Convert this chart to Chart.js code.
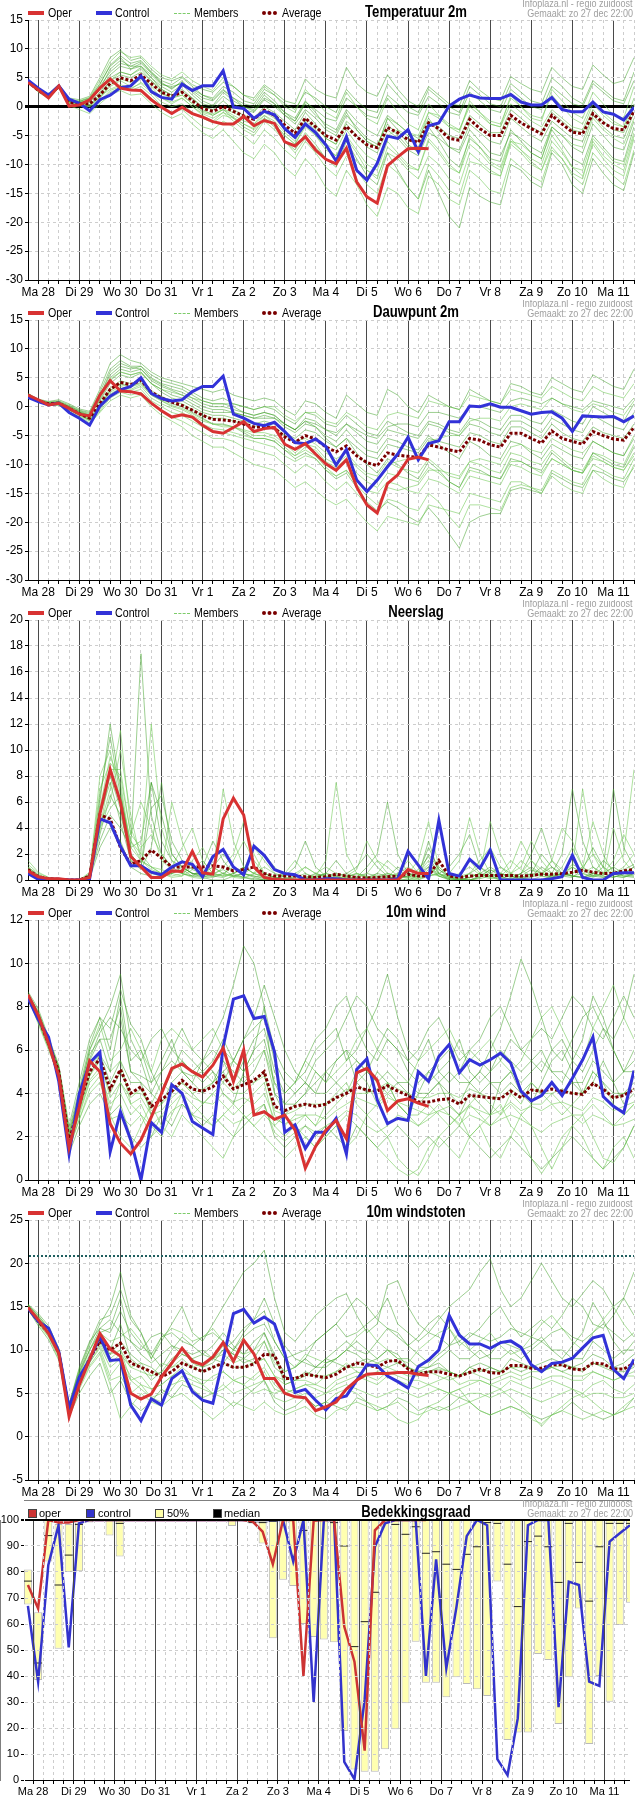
<!DOCTYPE html>
<html><head><meta charset="utf-8">
<script src="https://cdn.jsdelivr.net/npm/chart.js@4.4.1/dist/chart.umd.min.js"></script>
<style>
body{margin:0;background:#fff;width:635px;}
.panel{position:relative;width:635px;height:300px;overflow:hidden;background:#fff;}
.panel canvas{position:absolute;left:0;top:0;}
.h{position:absolute;white-space:nowrap;font-family:"Liberation Sans",Arial,sans-serif;}
.lg{font-size:13px;line-height:14px;top:6px;color:#000;transform:scaleX(0.82);transform-origin:left center;}
.sw{position:absolute;width:16px;height:0;}
.info{right:2px;font-size:11px;line-height:11px;color:#a0a0a0;text-align:right;transform:scaleX(0.82);transform-origin:right center;}
.ttl{font-weight:bold;font-size:16px;line-height:18px;top:3px;transform:translateX(-50%) scaleX(0.82);transform-origin:center center;}
.lg6{font-size:11px;line-height:12px;top:7px;}
.sq{position:absolute;width:7px;height:7px;top:9px;border:1px solid #444;}
</style></head><body>
<div id="root"></div>
<script>
// ---------- categories / ticks ----------
const dayLabels = ['Ma 28','Di 29','Wo 30','Do 31','Vr 1','Za 2','Zo 3','Ma 4','Di 5','Wo 6','Do 7','Vr 8','Za 9','Zo 10','Ma 11'];
const times = [-6,0,6,12,18,24,30,36,42,48,54,60,66,72,78,84,90,96,102,108,114,120,126,132,138,144,150,156,162,168,174,180,186,192,198,204,210,216,222,228,234,240,246,252,258,264,270,276,282,288,294,300,306,312,318,324,330,336,342,348];
const cloudTimes = [-3,3,9,15,21,27,33,39,45,51,57,63,69,75,81,87,93,99,105,111,117,123,129,135,141,147,153,159,165,171,177,183,189,195,201,207,213,219,225,231,237,243,249,255,261,267,273,279,285,291,297,303,309,315,321,327,333,339,345,351];

// ---------- Temperatuur 2m ----------
const tempOper = [4.2,2.9,1.5,3.6,0.1,0.3,1.2,3.2,4.8,3.2,2.9,2.8,1.2,-0.1,-1.2,-0.1,-1.2,-1.8,-2.6,-3.0,-3.0,-1.7,-3.3,-2.4,-2.9,-6.1,-6.8,-5.2,-7.5,-9.1,-9.9,-7.2,-13.0,-15.6,-16.7,-10.2,-8.7,-7.3,-7.2,-7.3];
const tempControl = [4.6,3.2,2.0,3.6,1.3,0.6,-0.7,1.2,2.0,3.3,3.6,5.3,2.6,1.6,1.3,3.9,2.8,3.6,3.6,6.2,-0.1,-0.3,-2.0,-0.8,-1.4,-3.8,-5.3,-3.0,-4.5,-6.6,-9.4,-5.2,-11.0,-12.7,-9.8,-5.1,-5.5,-4.0,-7.8,-3.3,-2.8,0.1,1.3,2.0,1.5,1.4,1.4,2.1,0.8,0.3,0.3,1.6,-0.5,-0.9,-0.9,0.8,-0.9,-1.3,-2.3,-0.1];
const tempAverage = [4.4,2.8,1.8,3.5,0.8,0.5,0.5,2.0,4.0,5.0,4.5,5.5,4.0,2.5,1.8,2.5,1.0,-0.3,-0.8,0.0,-0.8,-1.6,-2.2,-0.6,-1.5,-3.2,-4.6,-2.0,-3.5,-5.0,-5.8,-3.4,-5.2,-6.6,-7.1,-3.6,-4.5,-5.7,-6.2,-2.8,-3.8,-5.5,-5.8,-2.2,-3.8,-5.0,-5.0,-1.5,-2.8,-3.8,-4.7,-1.5,-3.0,-4.4,-4.7,-1.2,-2.8,-3.8,-4.0,-0.8];
const tempMembers = [
[4.6,3.0,2.2,3.9,1.5,1.2,1.8,5.0,8.5,9.8,8.0,8.5,6.5,5.0,4.5,5.2,3.8,3.0,2.5,4.2,3.5,2.0,1.5,3.8,2.5,1.0,0.5,4.8,3.0,2.0,1.5,6.8,4.0,2.5,1.8,5.5,3.0,1.0,0.0,3.5,2.0,0.5,0.2,4.5,2.8,1.5,1.0,5.2,4.0,3.0,2.5,6.8,5.0,3.5,3.0,7.2,5.5,4.0,4.5,8.5],
[4.2,2.5,1.4,3.2,0.2,-0.5,-1.2,0.5,2.0,2.8,2.0,2.2,0.5,-1.0,-2.0,-1.2,-3.0,-4.5,-5.5,-4.0,-6.0,-8.0,-9.0,-6.5,-8.0,-10.5,-12.0,-9.0,-11.0,-14.0,-15.5,-11.0,-13.5,-17.0,-19.0,-14.0,-15.0,-17.5,-18.5,-12.0,-13.5,-16.0,-17.0,-11.0,-12.5,-14.5,-15.0,-9.0,-10.5,-12.0,-13.0,-7.5,-9.0,-11.5,-12.5,-6.0,-8.5,-10.0,-11.0,-5.0],
[4.5,2.9,1.9,3.6,1.0,0.8,1.0,3.5,6.0,7.5,7.0,7.8,6.0,4.2,3.0,4.5,2.5,1.0,0.2,2.5,1.0,0.0,-0.8,1.5,0.5,-1.0,-2.5,0.5,-1.5,-3.0,-4.0,-0.5,-2.5,-4.0,-5.0,-1.5,-3.0,-4.5,-5.5,-2.0,-4.5,-7.0,-8.0,-4.0,-6.0,-8.0,-8.5,-4.5,-5.5,-7.0,-8.0,-3.5,-5.0,-7.0,-8.0,-3.0,-5.0,-7.0,-7.5,-2.5],
[4.3,2.7,1.6,3.4,0.6,0.3,0.0,1.5,3.5,4.5,3.5,4.8,3.5,1.5,0.5,1.5,0.0,-1.5,-2.5,-1.0,-2.5,-4.0,-5.0,-2.5,-4.0,-6.0,-8.0,-5.5,-7.0,-9.0,-10.0,-7.0,-9.5,-11.0,-12.0,-8.0,-9.0,-11.0,-12.5,-8.5,-10.0,-12.5,-13.5,-8.0,-9.5,-11.0,-12.0,-6.5,-8.0,-10.0,-11.0,-6.0,-8.0,-10.5,-11.0,-5.5,-7.5,-9.5,-10.0,-4.5],
[4.4,2.8,1.8,3.5,0.9,0.6,0.8,2.5,5.0,6.0,5.5,6.8,5.0,3.5,2.5,3.8,2.0,0.5,0.0,1.8,0.5,-0.5,-1.0,1.2,0.0,-1.5,-2.5,0.8,-0.5,-2.0,-2.5,1.5,0.0,-1.5,-2.0,2.0,0.5,-1.0,-1.5,1.8,0.5,-1.0,-1.5,2.5,1.0,-0.5,-1.0,3.0,1.5,0.0,-0.5,3.5,2.0,0.5,0.0,4.0,2.5,1.0,0.5,4.5],
[4.4,2.8,1.7,3.5,0.7,0.4,0.2,1.8,3.0,3.8,3.2,4.0,2.5,0.8,0.0,0.5,-1.0,-2.0,-2.8,-1.5,-2.0,-3.0,-3.8,-1.5,-2.5,-4.5,-6.0,-2.5,-4.0,-6.5,-7.5,-4.0,-6.5,-8.5,-9.5,-5.0,-4.0,-5.0,-6.0,-1.0,-1.5,-3.0,-4.0,0.5,-1.0,-2.5,-3.0,1.5,0.0,-1.5,-2.0,2.0,0.0,-2.0,-3.0,1.0,-1.0,-2.5,-3.5,0.5],
[4.5,2.9,2.0,3.6,1.2,0.9,1.5,4.0,7.0,8.5,6.5,7.0,5.5,3.8,3.5,4.0,2.8,1.5,1.0,2.8,1.5,0.5,0.0,2.5,1.0,-1.0,-2.0,1.0,-1.0,-3.5,-4.5,-1.0,-4.0,-6.0,-7.0,-2.0,-4.0,-6.5,-8.0,-3.5,-6.0,-9.0,-10.5,-5.5,-7.0,-9.0,-9.5,-4.0,-6.0,-8.0,-9.0,-4.0,-6.5,-9.0,-10.0,-5.0,-7.0,-9.0,-9.5,-3.5],
[4.3,2.6,1.5,3.3,0.5,0.2,-0.5,0.8,2.5,3.2,2.8,3.5,2.0,0.2,-1.0,-0.5,-2.0,-3.5,-4.0,-2.5,-3.5,-5.0,-6.5,-4.0,-5.5,-7.5,-9.0,-6.0,-8.0,-10.5,-12.0,-8.5,-11.0,-13.5,-15.0,-10.0,-11.5,-14.0,-16.0,-10.0,-12.0,-14.5,-15.5,-9.5,-10.0,-11.5,-12.0,-6.0,-6.5,-8.0,-9.0,-3.5,-5.0,-6.5,-7.0,-2.0,-4.0,-5.5,-6.5,-2.0],
[4.5,2.9,1.9,3.6,1.0,0.7,1.2,3.0,5.5,7.0,6.5,7.5,5.8,4.0,3.2,4.2,3.0,2.0,1.5,3.5,2.5,1.0,0.5,3.0,2.0,0.5,-0.5,2.5,1.5,0.0,-1.0,3.0,1.0,-0.5,-1.0,4.0,2.0,0.0,-1.0,3.0,1.5,0.0,-1.0,3.5,2.0,0.5,0.0,4.0,2.5,1.0,0.5,5.0,3.5,1.5,0.5,4.5,3.0,1.5,1.0,6.0],
[4.4,2.7,1.7,3.4,0.7,0.4,0.4,1.5,3.8,4.8,4.2,5.0,3.8,2.2,1.5,2.0,0.5,-0.8,-1.2,-0.5,-1.5,-2.5,-3.0,-1.5,-3.0,-5.0,-6.5,-3.0,-5.0,-7.5,-8.5,-5.0,-7.5,-10.0,-11.0,-6.0,-8.0,-10.0,-11.0,-5.5,-7.5,-10.0,-11.5,-5.0,-7.0,-9.5,-10.5,-5.5,-7.5,-9.0,-10.0,-5.0,-7.5,-10.5,-12.0,-6.5,-9.0,-11.0,-12.0,-5.5],
[4.4,2.8,1.8,3.5,0.8,0.5,0.3,2.2,4.5,5.5,5.0,6.0,4.5,3.0,2.0,3.0,1.5,-0.5,-1.5,-0.5,-2.0,-3.5,-4.5,-2.0,-3.5,-6.0,-7.5,-4.5,-6.5,-9.0,-10.5,-6.0,-9.0,-12.0,-13.5,-8.0,-11.0,-14.0,-16.0,-11.0,-15.0,-19.0,-21.0,-14.0,-15.5,-16.5,-17.0,-10.0,-11.0,-13.0,-14.0,-8.0,-10.0,-13.5,-15.0,-9.0,-11.5,-13.5,-14.5,-8.0],
[4.5,3.0,2.0,3.7,1.3,1.0,1.6,4.5,7.8,9.5,8.5,8.8,7.0,5.5,4.8,6.0,4.5,3.5,2.8,5.0,3.5,2.0,1.0,3.5,2.0,0.0,-1.0,3.0,1.0,-1.0,-2.0,2.5,0.0,-2.0,-3.0,1.5,-1.0,-3.0,-4.0,0.5,-1.5,-3.5,-4.5,1.0,-1.0,-3.0,-3.5,2.0,0.0,-2.0,-2.5,3.0,1.0,-1.0,-2.0,2.5,0.5,-1.5,-2.0,3.5],
[4.4,2.8,1.8,3.5,0.8,0.6,0.9,3.0,6.5,8.0,7.0,7.0,5.0,3.0,2.0,2.5,1.5,0.0,-0.5,1.0,-0.5,-1.5,-2.0,0.0,-1.0,-2.5,-4.0,-1.0,-3.0,-5.5,-6.5,-3.0,-5.0,-7.0,-8.0,-4.0,-5.5,-7.5,-8.5,-4.5,-5.5,-7.0,-7.5,-3.0,-4.5,-6.0,-6.5,-2.0,-3.5,-5.0,-6.0,-2.5,-4.0,-5.5,-6.0,-1.5,-3.5,-5.0,-5.5,-1.0],
[4.3,2.7,1.6,3.4,0.6,0.3,0.1,1.8,4.5,6.0,5.5,6.5,4.5,2.5,1.5,2.0,0.5,-1.0,-1.5,-0.5,-1.0,-2.0,-3.0,-1.0,-2.0,-4.0,-5.0,-2.0,-3.5,-5.5,-6.5,-2.5,-4.0,-6.0,-7.0,-2.0,-3.0,-4.5,-5.0,-1.0,-2.0,-3.5,-4.0,0.0,-1.5,-3.0,-3.5,0.5,-1.0,-2.5,-3.5,-0.5,-2.0,-3.5,-4.0,0.5,-1.5,-3.0,-3.5,1.5],
[4.5,3.0,2.0,3.7,1.1,0.9,1.4,3.8,7.2,8.8,7.5,8.0,6.0,4.5,3.8,5.0,3.5,2.0,1.2,3.0,1.5,0.0,-0.5,2.0,0.5,-1.5,-3.0,-0.5,-2.0,-4.0,-5.0,-1.5,-3.5,-5.5,-6.5,-3.0,-5.0,-7.0,-7.0,-2.5,-3.5,-5.0,-5.5,-1.5,-3.0,-4.5,-4.5,-0.5,-2.0,-3.5,-4.5,-1.0,-2.5,-4.0,-4.5,-0.5,-2.5,-4.0,-4.5,0.0],
[4.4,2.8,1.7,3.4,0.8,0.4,0.0,1.0,2.8,3.5,3.0,4.2,3.0,1.5,0.8,1.5,0.0,-1.2,-2.0,-1.0,-1.8,-3.0,-4.0,-2.0,-3.0,-5.0,-6.5,-3.5,-5.0,-7.0,-8.5,-5.5,-8.0,-11.0,-12.5,-7.0,-8.5,-10.5,-11.0,-6.0,-8.0,-10.5,-11.5,-6.5,-8.0,-10.0,-11.0,-6.0,-7.5,-9.5,-11.0,-7.0,-9.0,-12.0,-13.5,-8.0,-10.0,-12.0,-13.5,-7.5]
];

// ---------- Dauwpunt 2m ----------
const dewOper = [2.0,1.2,0.3,0.6,-0.3,-1.3,-1.6,2.0,4.5,2.7,2.6,2.2,0.6,-0.7,-1.8,-1.4,-1.8,-3.2,-4.3,-4.6,-3.6,-2.6,-4.3,-3.8,-3.6,-6.5,-7.4,-6.4,-8.2,-9.9,-11.0,-9.2,-13.9,-17.0,-18.4,-13.3,-11.8,-9.1,-8.7,-9.2];
const dewControl = [1.6,0.9,0.3,0.6,-1.0,-2.0,-3.2,0.1,1.8,2.9,3.5,5.0,2.3,1.4,1.0,1.2,2.6,3.5,3.5,5.3,-1.3,-2.0,-2.9,-3.3,-2.7,-4.3,-6.2,-6.4,-5.6,-6.9,-10.1,-7.4,-12.7,-14.7,-12.7,-10.4,-8.2,-5.3,-9.2,-6.4,-5.9,-2.6,-2.6,0.1,0.0,0.5,-0.1,-0.1,-0.7,-1.3,-1.0,-0.9,-2.0,-4.3,-1.6,-1.7,-1.8,-1.7,-2.6,-1.6];
const dewAverage = [2.0,1.0,0.5,0.6,-0.3,-1.2,-2.0,0.5,3.0,4.2,3.8,4.6,2.5,1.5,0.8,0.2,-0.6,-1.5,-2.2,-2.3,-2.5,-3.0,-3.5,-3.5,-3.7,-5.2,-6.2,-5.0,-5.6,-7.0,-7.8,-6.8,-8.5,-9.7,-10.2,-8.0,-8.4,-8.6,-8.8,-6.6,-7.0,-7.5,-7.8,-5.5,-5.8,-6.6,-7.0,-4.6,-4.6,-5.5,-6.3,-4.2,-5.5,-6.0,-6.5,-4.3,-5.0,-5.6,-5.8,-3.6];
const dewMembers = [
[2.3,1.3,0.9,1.2,0.5,-0.4,-0.8,3.0,7.5,9.0,8.0,7.5,6.0,5.0,4.5,4.0,3.5,3.0,2.5,3.0,2.0,1.5,1.0,1.5,1.0,-0.5,-1.5,1.0,0.5,-1.0,-2.0,2.0,0.5,-1.0,-1.5,3.0,2.0,0.0,-1.0,2.0,1.0,0.0,-0.5,3.0,2.0,1.0,0.5,4.0,3.5,2.5,2.0,5.0,4.0,3.0,2.5,5.5,4.5,3.5,3.0,6.5],
[1.8,0.8,0.2,0.2,-0.8,-1.8,-3.0,-1.0,1.0,2.0,1.5,2.0,0.0,-1.5,-2.5,-3.5,-5.0,-6.0,-7.0,-7.0,-8.0,-9.0,-10.0,-10.5,-11.0,-12.5,-14.0,-13.0,-14.5,-16.0,-17.0,-16.0,-18.0,-20.0,-21.5,-19.0,-19.5,-20.0,-20.5,-17.0,-17.5,-18.0,-18.5,-15.0,-15.5,-16.0,-16.5,-13.0,-13.0,-14.0,-15.0,-12.0,-13.5,-14.5,-15.0,-11.0,-12.5,-13.5,-14.0,-10.0],
[2.1,1.1,0.6,0.8,0.0,-0.9,-1.5,1.5,5.0,6.5,6.0,6.5,4.5,3.5,2.8,2.0,1.0,0.0,-0.5,-0.5,-1.0,-1.5,-2.0,-1.5,-2.0,-3.5,-4.5,-3.0,-3.5,-5.0,-6.0,-4.0,-6.0,-7.5,-8.0,-5.5,-6.0,-7.0,-7.5,-5.0,-6.5,-8.0,-9.0,-6.0,-7.0,-8.5,-9.0,-6.0,-6.5,-8.0,-9.0,-6.5,-7.5,-8.5,-9.0,-6.0,-7.0,-8.0,-8.5,-5.5],
[1.9,0.9,0.4,0.4,-0.5,-1.5,-2.5,-0.5,2.0,3.0,2.5,3.0,1.0,0.0,-1.0,-1.5,-2.5,-3.5,-4.5,-4.5,-5.0,-5.5,-6.0,-6.5,-7.0,-8.5,-9.5,-8.5,-9.0,-11.0,-12.0,-11.0,-13.0,-14.5,-15.0,-13.0,-13.5,-14.5,-15.0,-12.5,-13.0,-14.0,-15.0,-12.0,-12.5,-13.0,-13.5,-10.0,-10.5,-11.5,-12.0,-9.0,-10.0,-11.0,-11.5,-8.5,-9.5,-10.5,-11.0,-8.0],
[2.0,1.0,0.5,0.7,-0.2,-1.0,-1.5,1.0,4.0,5.5,5.0,5.8,4.0,3.0,2.0,1.5,0.5,-0.5,-1.0,-1.0,-1.0,-1.5,-2.0,-2.0,-2.0,-3.0,-4.0,-2.5,-3.0,-4.0,-4.5,-3.0,-4.0,-5.0,-5.5,-3.5,-3.0,-3.0,-3.5,-1.0,-1.0,-1.5,-2.0,0.0,0.0,-0.5,-1.0,1.0,1.5,1.0,0.5,1.5,0.5,0.0,-0.5,1.0,0.5,0.0,-0.5,1.5],
[2.0,1.0,0.5,0.6,-0.4,-1.3,-2.2,0.2,2.5,3.5,3.0,3.8,2.0,1.0,0.0,-0.5,-1.5,-2.5,-3.0,-3.5,-3.5,-4.0,-4.5,-4.5,-5.0,-6.5,-8.0,-6.5,-7.0,-9.0,-10.0,-8.5,-10.5,-12.0,-13.0,-10.0,-9.5,-9.0,-9.0,-6.0,-5.5,-5.0,-5.0,-2.5,-2.0,-2.0,-2.5,0.0,0.5,0.0,-0.5,1.5,0.5,-0.5,-1.0,0.5,0.0,-1.0,-1.5,1.0],
[2.2,1.2,0.8,1.0,0.3,-0.6,-1.0,2.5,6.5,8.0,7.0,7.0,5.0,4.0,3.5,3.0,2.0,1.0,0.5,0.5,0.0,-1.0,-1.5,-1.0,-1.5,-3.0,-4.0,-2.5,-3.5,-5.5,-7.0,-5.5,-8.0,-10.0,-11.5,-9.0,-10.0,-11.5,-12.5,-9.5,-11.0,-13.0,-14.0,-10.5,-11.0,-12.0,-12.5,-9.0,-9.5,-10.5,-11.0,-8.0,-9.5,-11.0,-11.5,-8.0,-9.0,-10.0,-10.5,-7.0],
[1.9,0.9,0.3,0.3,-0.6,-1.6,-2.8,-0.8,1.5,2.5,2.0,2.5,0.5,-0.8,-1.8,-2.5,-3.5,-4.5,-5.5,-5.5,-6.0,-7.0,-7.5,-8.0,-8.5,-10.0,-11.5,-10.0,-11.0,-13.0,-14.5,-13.0,-15.0,-17.0,-18.5,-16.0,-16.5,-17.5,-18.0,-15.0,-16.5,-19.0,-21.0,-17.0,-17.0,-17.5,-18.0,-14.0,-13.5,-14.0,-14.5,-11.0,-12.0,-13.0,-13.5,-10.0,-11.0,-12.0,-12.5,-9.0],
[2.1,1.1,0.7,0.9,0.1,-0.7,-1.2,2.0,5.5,7.0,6.5,7.0,5.5,4.5,4.0,3.5,2.5,1.5,1.0,1.5,0.5,0.0,-0.5,0.0,-0.5,-2.0,-3.0,-1.0,-1.5,-3.0,-3.5,-1.5,-3.0,-4.5,-5.0,-2.5,-3.5,-4.5,-5.0,-2.5,-3.0,-4.0,-4.5,-2.0,-2.5,-3.5,-4.0,-1.5,-1.5,-2.5,-3.0,-0.5,-1.5,-2.5,-3.0,0.0,-1.0,-2.0,-2.5,0.5],
[2.0,1.0,0.5,0.6,-0.3,-1.2,-2.0,0.5,3.2,4.5,4.0,4.5,2.8,1.8,1.0,0.5,-0.5,-1.5,-2.0,-2.0,-2.5,-3.0,-3.5,-3.0,-3.5,-5.0,-6.0,-5.5,-6.5,-8.0,-9.0,-8.0,-10.0,-11.5,-12.0,-9.5,-10.5,-11.0,-11.5,-9.0,-10.5,-12.0,-12.5,-9.5,-10.0,-11.0,-11.5,-8.0,-8.5,-9.5,-10.0,-7.5,-9.0,-10.5,-11.0,-8.0,-8.5,-9.5,-10.0,-6.5],
[2.0,1.0,0.5,0.5,-0.4,-1.4,-2.4,0.0,2.8,4.0,3.5,4.2,2.2,1.2,0.5,0.0,-1.0,-2.0,-3.0,-3.0,-3.5,-4.5,-5.5,-5.5,-6.0,-7.5,-9.0,-8.0,-9.0,-11.0,-12.5,-11.5,-14.0,-16.5,-18.0,-16.5,-17.5,-19.0,-20.0,-17.5,-19.5,-22.0,-24.5,-20.0,-19.0,-18.5,-18.5,-14.5,-14.0,-14.5,-15.0,-11.5,-12.5,-13.5,-14.0,-11.0,-11.5,-12.5,-13.0,-10.5],
[2.1,1.1,0.6,0.8,-0.1,-1.0,-1.6,1.8,4.8,6.0,5.5,6.0,4.0,3.0,2.5,2.0,1.5,1.0,0.5,0.5,0.5,0.0,-0.5,0.0,0.0,-1.5,-2.5,-1.0,-1.0,-2.5,-3.0,-1.0,-2.0,-3.5,-4.0,-1.5,-1.0,-1.5,-2.0,1.0,0.5,0.0,-0.5,2.0,1.5,1.0,0.5,3.0,2.5,2.0,1.5,3.5,2.5,1.5,1.0,3.5,2.5,2.0,1.5,4.0],
[2.0,1.0,0.5,0.7,-0.2,-1.1,-1.8,1.2,4.5,6.0,5.5,6.0,4.0,2.5,1.5,1.0,0.0,-1.0,-1.5,-1.5,-2.0,-2.5,-3.0,-2.5,-3.0,-4.5,-5.5,-4.0,-4.5,-6.0,-7.0,-5.5,-7.0,-8.5,-9.0,-6.5,-7.0,-7.5,-8.0,-5.5,-6.0,-6.5,-7.0,-4.5,-5.0,-6.0,-6.5,-3.5,-3.5,-4.5,-5.5,-3.0,-4.5,-5.5,-6.0,-3.5,-4.5,-5.0,-5.5,-3.0],
[1.9,0.9,0.4,0.5,-0.5,-1.4,-2.3,-0.2,2.2,3.2,2.8,3.5,1.5,0.5,-0.3,-1.0,-2.0,-3.0,-3.8,-4.0,-4.5,-5.0,-5.5,-5.5,-6.0,-7.5,-8.5,-7.0,-7.5,-9.5,-10.5,-9.0,-11.5,-13.0,-14.0,-11.5,-12.0,-12.5,-13.0,-10.5,-11.5,-13.0,-14.0,-11.0,-11.5,-12.0,-12.5,-9.5,-9.5,-10.5,-11.5,-9.0,-10.0,-11.0,-11.5,-9.0,-9.5,-10.5,-11.0,-8.5],
[2.1,1.1,0.6,0.8,0.1,-0.8,-1.4,1.8,6.0,7.5,6.8,6.5,4.8,3.8,3.0,2.5,1.5,0.5,0.0,0.0,-0.5,-1.0,-1.5,-1.0,-1.5,-3.0,-4.0,-2.0,-2.5,-4.0,-5.0,-3.0,-4.5,-6.0,-6.5,-4.0,-4.5,-5.0,-5.5,-3.0,-3.5,-4.5,-5.0,-3.0,-3.5,-4.5,-5.0,-2.5,-2.5,-3.5,-4.5,-2.0,-3.0,-4.0,-4.5,-1.5,-2.5,-3.5,-4.0,-1.0],
[2.0,1.0,0.5,0.6,-0.3,-1.2,-2.1,0.3,2.8,3.8,3.4,4.0,2.0,1.0,0.2,-0.3,-1.2,-2.2,-3.0,-3.2,-3.5,-4.2,-5.0,-5.0,-5.5,-7.0,-8.5,-7.5,-8.5,-10.5,-12.0,-11.0,-13.5,-15.5,-17.0,-14.0,-14.5,-14.0,-13.5,-11.0,-11.0,-11.5,-12.0,-9.5,-9.0,-9.5,-10.0,-7.0,-6.5,-7.5,-8.0,-5.5,-6.5,-7.5,-8.0,-6.0,-7.0,-8.0,-8.5,-5.0]
];

// ---------- Neerslag ----------
const rainOper = [0.7,0.25,0.1,0.1,0,0,0.2,5.1,8.5,6.0,1.8,1.0,0.2,0.2,0.7,0.65,2.2,0.55,0.45,4.7,6.3,5.0,1.0,0.2,0.05,0,0,0,0,0,0,0,0,0,0,0,0,0.8,0.5,0.5];
const rainControl = [0.5,0.05,0.05,0.05,0,0,0.1,4.7,4.4,2.6,1.1,1.1,0.6,0.4,1.0,1.4,1.2,0.25,1.8,2.35,1.0,0.4,2.6,1.9,0.8,0.5,0.4,0,0,0.1,0.1,0,0,0,0,0,0.1,2.2,1.15,0.1,4.6,0.5,0.3,1.6,0.9,2.3,0,0,0,0,0,0.1,0.25,1.9,0.2,0,0,0.5,0.55,0.55];
const rainAverage = [0.8,0.25,0.1,0.05,0,0,0.3,5.0,4.7,2.5,1.2,1.5,2.3,1.7,1.0,1.0,1.0,1.0,1.1,1.0,0.7,0.8,1.0,0.5,0.3,0.3,0.3,0.25,0.2,0.25,0.45,0.3,0.2,0.15,0.2,0.25,0.3,0.45,0.3,0.3,1.5,0.3,0.2,0.3,0.35,0.35,0.35,0.35,0.3,0.35,0.45,0.45,0.5,0.6,0.75,0.6,0.5,0.5,0.7,0.8];
const rainMembers = [
[0.8,0.3,0.1,0.0,0.0,0.0,0.3,6.0,12.0,7.0,2.0,1.0,0.5,0.3,0.5,1.0,0.5,0.2,0.5,0.8,0.3,0.5,1.0,0.5,0.2,0.0,0.0,0.1,0.3,0.5,1.5,0.5,0.2,0.0,0.0,0.2,1.0,0.5,0.2,1.0,0.3,0.0,0.0,0.2,0.5,0.3,0.0,0.0,0.5,1.0,0.5,0.2,0.5,1.2,0.8,0.3,0.2,0.5,0.8,1.2],
[1.0,0.4,0.1,0.0,0.0,0.0,0.5,4.0,7.0,11.5,4.0,2.0,1.0,0.5,0.2,0.3,1.5,2.5,1.0,0.5,0.2,0.1,0.5,2.0,1.0,0.2,0.0,0.0,0.0,0.2,0.5,0.3,0.1,0.5,1.5,1.0,0.3,0.1,0.0,0.5,1.0,0.3,0.1,0.5,1.5,2.5,1.0,0.3,0.1,0.0,0.3,1.5,4.0,3.0,1.0,0.3,0.5,1.5,3.5,2.0],
[0.6,0.2,0.0,0.0,0.0,0.0,0.2,3.0,5.0,4.0,2.5,17.4,5.0,2.0,1.0,0.5,0.3,1.0,3.0,1.5,0.5,0.2,0.0,0.0,0.1,0.3,1.0,3.0,1.0,0.3,0.0,0.0,0.0,0.2,0.5,0.3,0.1,0.0,0.3,2.0,0.8,0.2,0.0,0.0,0.3,0.8,0.3,0.0,0.0,0.5,2.0,1.0,0.3,0.2,0.8,2.5,1.0,0.3,0.2,0.5],
[1.2,0.5,0.2,0.1,0.0,0.0,0.4,8.0,10.0,6.0,3.0,2.0,12.0,4.0,1.5,0.5,0.2,0.1,0.3,1.0,2.0,4.5,2.0,0.5,0.2,0.1,0.0,0.0,0.3,1.5,7.5,2.0,0.5,0.2,0.0,0.0,0.2,0.5,0.2,0.3,0.5,0.2,0.5,1.0,0.4,0.2,0.0,0.5,1.5,0.8,0.3,0.1,0.2,1.0,7.0,2.0,0.5,0.3,0.2,0.5],
[0.7,0.2,0.1,0.0,0.0,0.0,0.2,5.0,8.0,5.5,1.5,0.8,2.5,7.5,2.0,1.0,0.5,0.3,0.2,0.5,1.0,0.5,0.2,0.0,0.0,0.5,0.3,0.1,0.0,0.0,0.3,0.5,1.0,2.0,1.0,0.3,0.0,0.0,0.0,0.3,0.5,1.0,2.0,3.5,1.0,0.3,0.1,0.0,0.2,0.5,0.3,0.2,0.5,0.3,0.2,0.3,1.0,7.0,2.5,1.0],
[0.9,0.3,0.1,0.0,0.0,0.0,0.3,4.5,6.0,10.0,5.0,1.5,0.8,0.5,6.0,3.0,1.0,0.3,0.5,7.0,3.0,1.0,0.5,0.2,0.3,0.5,1.5,0.5,0.1,0.0,0.0,0.2,0.5,0.2,0.0,0.0,0.5,1.5,0.5,1.5,0.5,0.2,0.0,0.2,0.5,4.5,2.0,0.5,0.2,0.0,0.0,0.3,0.5,1.0,0.5,0.2,0.5,1.0,2.0,8.5],
[0.5,0.2,0.0,0.0,0.0,0.0,0.1,2.5,4.0,3.0,1.0,0.5,0.3,0.2,0.5,0.8,0.3,0.2,0.0,0.0,0.3,0.5,0.3,0.1,0.0,0.0,0.2,0.5,0.2,0.5,0.3,0.0,0.2,1.0,2.0,6.0,2.0,0.5,0.3,3.0,0.5,0.0,0.0,0.0,0.2,0.5,1.0,0.5,0.2,0.3,1.0,0.5,2.0,7.0,3.0,1.0,0.5,0.2,0.5,1.0],
[1.5,0.6,0.2,0.0,0.0,0.0,0.6,7.0,9.0,8.0,3.5,6.0,4.0,1.5,0.8,0.5,0.3,0.5,1.0,0.5,0.3,0.2,0.5,1.0,0.5,0.2,0.1,0.0,0.5,1.0,0.5,0.3,0.1,0.0,0.3,0.5,0.2,0.5,1.5,4.5,1.0,0.3,0.2,1.5,0.5,0.2,0.5,1.5,0.8,0.3,0.5,1.5,0.8,0.3,0.5,1.0,0.3,4.0,1.5,0.5],
[0.7,0.3,0.1,0.0,0.0,0.0,0.2,3.5,6.5,5.0,2.0,1.0,7.5,5.0,2.0,1.0,0.5,0.5,0.3,0.2,0.5,1.0,0.5,0.3,0.1,0.0,0.0,0.1,0.2,0.0,0.0,0.1,0.3,0.5,0.3,0.2,0.1,0.3,0.8,1.8,0.5,0.1,0.0,0.2,0.5,1.0,0.5,0.2,0.5,2.0,4.0,1.5,0.5,0.3,0.2,0.5,1.5,0.8,0.3,0.2],
[0.8,0.3,0.1,0.0,0.0,0.0,0.3,5.5,9.5,7.5,2.5,1.5,1.0,0.8,0.5,0.3,0.8,1.5,0.5,0.3,0.5,1.0,0.5,0.2,0.0,0.0,0.3,1.0,0.5,0.2,0.1,0.3,0.5,0.2,0.1,0.3,0.5,1.0,0.5,1.2,0.3,0.1,0.3,0.5,0.3,0.1,0.2,0.5,1.0,3.0,1.5,0.5,0.3,0.5,1.0,2.0,1.0,0.5,0.3,0.3],
[1.0,0.4,0.1,0.0,0.0,0.0,0.4,6.5,11.0,6.5,2.5,3.0,7.5,3.0,1.5,1.0,0.5,0.5,1.0,2.0,1.0,0.5,0.3,0.2,0.1,0.0,0.0,0.2,0.5,0.3,0.2,0.1,0.0,0.0,0.2,0.5,0.3,0.2,0.5,1.0,0.5,0.2,0.1,0.5,1.0,0.5,0.2,0.1,0.3,0.8,0.5,0.3,0.5,1.0,0.5,0.3,0.5,1.0,0.5,0.3],
[0.6,0.2,0.1,0.0,0.0,0.0,0.2,4.0,5.5,6.5,3.0,1.5,1.0,0.5,0.3,0.5,1.0,0.8,0.5,0.3,0.5,0.8,2.5,1.5,0.5,0.3,0.5,1.0,0.5,0.2,0.1,0.3,0.8,3.0,1.5,0.5,0.3,0.2,0.1,0.5,0.3,0.5,1.5,4.8,2.0,0.5,0.3,1.0,3.0,1.5,0.5,0.2,0.3,0.5,1.0,4.5,2.0,0.5,0.3,0.5],
[0.9,0.3,0.1,0.0,0.0,0.0,0.3,5.0,7.5,4.5,1.5,1.0,5.5,6.5,3.0,1.5,0.8,0.5,0.3,0.5,0.3,0.2,0.1,0.0,0.0,0.1,0.3,0.2,0.1,0.0,0.0,0.2,0.5,0.3,0.1,0.0,0.1,0.3,0.5,2.5,0.8,0.3,0.1,0.0,0.1,0.3,0.5,0.3,0.1,0.2,0.5,1.0,0.5,0.3,0.2,0.5,0.3,0.2,0.5,1.0],
[0.7,0.3,0.1,0.0,0.0,0.0,0.2,3.8,8.5,8.5,3.5,2.5,3.5,2.0,1.0,2.5,4.0,1.5,0.5,0.3,1.5,3.0,1.5,0.5,0.2,0.1,0.0,0.0,0.2,0.5,0.3,0.1,0.0,0.1,0.5,1.5,0.8,0.3,0.1,0.8,0.3,0.1,0.0,0.0,0.2,0.8,0.5,0.2,0.5,1.5,0.8,0.3,1.0,2.5,1.0,0.5,0.2,0.5,1.0,2.0]
];

// ---------- 10m wind ----------
const windOper = [8.55,7.6,6.3,4.8,1.5,3.4,5.5,5.0,2.6,1.7,1.2,1.85,2.9,4.0,5.15,5.35,5.0,4.75,5.3,6.1,4.55,6.0,3.0,3.15,2.8,3.0,2.3,0.55,1.55,2.3,2.75,1.9,4.95,5.15,4.6,3.2,3.65,3.75,3.55,3.4];
const windControl = [8.4,7.4,6.6,4.55,1.2,4.0,5.4,5.9,1.3,3.15,1.85,0.0,2.65,2.2,4.4,4.0,2.7,2.4,2.1,6.15,8.35,8.5,7.45,7.55,5.9,2.2,2.55,1.45,2.2,2.2,2.85,1.2,5.1,5.6,3.7,2.6,2.85,2.75,5.0,4.55,5.7,6.25,4.95,5.55,5.3,5.55,5.85,5.4,4.1,3.65,3.9,4.5,3.9,4.7,5.55,6.6,3.85,3.4,3.1,5.05];
const windAverage = [8.5,7.5,6.3,5.0,1.8,3.5,5.0,5.6,4.2,5.1,4.0,4.3,3.4,3.7,4.1,4.6,4.2,4.1,4.3,4.8,4.2,4.4,4.6,5.0,3.4,3.2,3.4,3.5,3.4,3.5,3.8,4.0,4.3,4.15,4.1,4.35,4.1,3.9,3.6,3.6,3.7,3.75,3.5,3.9,3.85,3.8,3.75,4.1,3.8,4.15,4.1,4.2,4.1,4.0,3.95,4.45,4.2,3.8,3.9,4.2];
const windMembers = [
[8.6,7.8,6.5,5.2,2.2,4.0,6.0,7.0,8.0,9.5,6.5,5.5,4.0,5.0,6.0,7.0,6.0,5.5,6.5,7.5,9.0,10.8,10.0,8.0,6.0,5.0,4.5,5.5,6.5,7.0,8.0,8.5,7.0,6.0,5.5,6.5,6.0,5.0,4.5,5.0,5.5,6.0,5.0,4.5,5.0,6.0,7.0,8.5,10.2,9.0,7.5,6.0,5.5,6.5,7.5,8.0,7.0,6.5,7.5,9.5],
[8.4,7.2,6.0,4.8,1.5,2.8,4.0,4.5,3.0,2.0,1.5,2.5,3.5,2.5,2.0,3.0,2.5,2.0,1.5,1.0,2.0,3.0,2.5,2.0,1.5,1.0,1.5,2.0,1.5,2.0,2.5,1.5,2.0,3.0,2.5,2.0,1.0,0.5,0.2,1.0,2.0,1.5,1.0,2.0,2.5,1.5,1.0,2.0,3.0,2.5,1.5,0.5,1.5,2.5,2.0,1.0,0.5,1.5,2.0,1.0],
[8.5,7.6,6.4,5.0,1.8,3.5,5.5,6.5,5.0,7.5,5.0,4.5,3.0,4.0,5.0,5.5,5.0,4.5,5.0,4.0,3.5,5.0,6.0,8.0,4.0,3.0,3.5,4.0,5.0,4.5,5.5,6.0,4.5,4.0,5.0,4.5,3.5,3.0,4.0,5.0,4.5,3.5,3.0,4.0,3.5,3.0,4.5,5.0,4.0,3.5,4.5,5.5,6.0,5.0,4.0,4.5,5.5,4.5,3.5,4.0],
[8.5,7.4,6.2,4.9,1.6,3.0,4.5,5.0,3.5,4.0,3.0,3.5,2.5,3.0,3.5,4.0,3.0,3.5,4.0,3.5,3.0,3.5,4.0,4.5,2.5,2.0,2.5,3.0,2.5,3.0,3.5,4.0,5.0,4.5,3.5,4.5,3.5,3.0,2.5,3.0,3.5,3.0,2.5,3.5,4.0,3.5,3.0,4.0,3.5,4.5,4.0,3.5,3.0,3.5,4.0,5.0,4.5,3.5,3.0,3.5],
[8.7,7.9,6.6,5.3,2.5,4.5,6.5,7.5,6.0,8.5,5.5,6.0,4.5,5.5,6.5,5.0,4.5,5.5,6.0,5.5,4.5,5.5,6.5,7.0,5.0,4.0,4.5,5.0,6.0,6.5,7.0,5.5,6.0,7.0,8.0,9.5,7.5,6.0,5.5,6.5,5.0,4.5,5.0,6.0,5.5,5.0,5.5,6.5,6.0,5.5,5.0,6.0,6.5,5.5,5.0,6.0,7.0,6.0,5.0,5.5],
[8.5,7.5,6.3,5.0,1.9,3.3,5.0,5.5,4.0,5.0,4.0,4.0,3.5,4.5,4.0,4.5,4.0,3.5,4.0,4.5,4.0,4.0,4.5,5.0,3.0,2.5,3.0,3.0,2.5,3.5,4.0,4.5,3.5,3.0,3.5,4.0,3.5,3.0,3.0,3.5,3.0,2.5,3.0,3.5,3.0,2.5,3.0,3.5,3.0,3.5,3.5,4.0,3.5,3.0,3.0,3.5,3.0,2.5,3.0,3.5],
[8.4,7.3,6.1,4.7,1.2,2.5,3.5,4.0,3.0,3.5,2.0,1.5,2.0,3.0,2.5,3.5,3.0,2.5,3.0,2.5,2.0,2.5,3.0,3.5,2.0,1.5,2.0,2.5,2.0,2.5,2.0,1.5,2.5,2.0,1.5,2.0,2.5,2.0,1.5,2.0,1.5,2.0,2.5,2.0,1.5,1.0,1.5,2.0,1.5,1.0,0.5,1.0,1.5,2.0,1.5,1.0,0.5,1.0,1.5,2.5],
[8.6,7.7,6.5,5.1,2.0,4.0,6.0,7.2,5.5,6.0,7.0,6.0,5.0,6.5,7.0,6.5,6.0,6.5,7.0,6.0,5.5,5.0,5.5,6.0,4.5,4.0,4.5,5.5,5.0,4.5,5.0,5.5,6.5,7.0,6.0,5.5,5.0,4.5,5.5,6.0,6.5,7.0,6.0,5.5,6.0,6.5,5.5,5.0,5.5,6.5,7.5,8.0,7.0,6.0,5.5,7.0,8.0,9.0,7.5,6.5],
[8.5,7.5,6.3,5.0,1.7,3.2,4.8,5.8,4.5,5.5,4.5,4.5,4.0,3.5,4.5,5.0,4.5,4.0,4.5,5.5,5.0,4.5,5.0,6.0,4.0,3.5,3.5,4.0,4.5,5.0,4.5,4.0,4.5,5.0,4.5,4.0,4.5,4.0,3.5,4.0,4.5,4.0,3.5,4.5,4.0,4.5,4.0,4.5,4.0,4.5,4.0,4.5,4.0,4.5,4.0,5.0,4.5,4.0,4.0,4.5],
[8.5,7.6,6.4,5.0,1.9,3.6,5.2,5.8,5.0,5.5,3.5,3.0,2.5,2.0,3.0,4.0,3.5,3.0,2.5,3.0,3.5,3.0,2.5,3.0,2.5,3.0,2.5,2.0,1.5,2.0,2.5,3.0,2.5,2.0,1.5,1.0,0.5,0.2,0.5,1.5,2.0,2.5,3.0,2.0,2.5,3.0,3.5,2.5,2.0,1.0,0.3,1.0,2.0,2.5,3.0,2.0,1.0,0.8,1.5,2.5],
[8.6,7.7,6.5,5.1,2.1,3.8,5.6,6.8,7.5,7.0,6.0,5.5,6.5,7.0,6.0,5.5,5.0,5.5,5.0,4.5,5.5,6.5,7.5,9.0,7.5,6.0,5.0,4.5,4.0,5.0,5.5,6.0,5.5,5.0,6.0,7.0,6.5,5.5,5.0,4.5,5.0,5.5,6.5,5.0,4.5,5.0,6.0,5.5,5.0,5.5,6.0,5.0,4.5,5.5,6.5,8.5,7.5,6.0,5.0,6.0],
[8.5,7.5,6.3,4.9,1.7,3.3,4.8,5.5,3.8,4.5,3.8,4.2,3.2,3.5,4.0,4.5,4.0,4.2,4.5,5.0,4.2,4.8,4.5,4.8,3.2,3.0,3.2,3.5,3.5,3.5,3.8,4.2,4.0,4.0,4.2,4.5,4.2,4.0,3.8,3.8,4.0,4.0,3.8,4.2,4.0,3.8,3.8,4.2,3.8,4.2,4.0,4.0,4.2,4.0,4.0,4.5,4.2,3.8,4.0,4.2],
[8.5,7.6,6.4,5.1,2.0,3.9,5.8,6.5,6.5,8.0,5.0,4.8,4.5,5.0,5.5,5.0,4.8,5.0,5.5,6.5,5.5,5.0,6.0,6.5,4.5,3.5,4.0,4.5,4.0,4.0,4.5,5.0,5.5,5.0,4.5,5.0,4.5,4.5,4.0,4.0,4.5,5.0,4.5,4.5,5.0,4.5,4.5,5.0,4.5,5.0,5.5,5.0,5.0,4.5,4.5,5.5,5.0,4.5,5.0,5.0],
[8.5,7.4,6.2,4.9,1.6,3.1,4.6,5.2,3.2,4.5,3.5,3.8,3.0,3.2,3.8,4.2,3.8,3.6,3.5,4.0,3.6,3.8,3.5,4.0,2.8,2.6,2.8,3.0,3.0,2.8,3.2,3.5,3.8,3.6,3.4,3.8,3.6,3.4,3.2,3.0,3.2,3.4,3.0,3.4,3.2,3.0,3.2,3.6,3.2,3.4,3.2,3.5,3.6,3.4,3.2,3.8,3.6,3.2,3.4,3.6],
[8.6,7.7,6.5,5.2,2.3,4.2,6.2,7.5,7.0,8.8,7.2,6.5,5.0,4.0,5.0,6.0,5.5,5.0,4.5,5.0,5.5,6.5,7.0,7.5,5.5,4.5,4.0,4.5,5.5,6.0,6.5,7.5,8.5,8.0,7.0,6.5,6.0,5.5,6.0,7.0,7.5,6.5,5.5,6.0,6.5,7.5,8.0,7.0,6.0,6.5,7.0,6.5,7.5,8.5,8.0,7.0,6.5,7.5,8.5,7.5],
[8.4,7.3,6.1,4.8,1.4,2.8,4.2,4.8,2.8,3.0,2.5,3.0,2.0,2.5,3.2,3.5,3.0,2.8,2.5,3.0,2.6,2.8,3.2,3.5,2.2,1.8,2.2,2.5,2.2,2.5,2.8,3.2,3.0,2.5,2.2,2.5,3.0,2.8,2.5,2.8,3.2,3.0,2.6,3.0,2.8,2.5,2.8,3.0,2.8,2.5,2.2,2.6,2.8,3.0,2.6,3.0,2.8,2.5,2.6,2.8]
];

// ---------- 10m windstoten ----------
const gustOper = [14.9,13.5,11.9,9.6,2.3,6.0,8.9,11.9,10.1,9.3,5.0,4.35,4.9,6.9,8.5,10.2,8.7,8.3,9.2,10.85,8.7,11.15,9.55,6.7,6.7,5.0,4.6,4.5,3.0,3.45,4.0,5.5,6.5,7.2,7.3,7.3,7.4,7.4,7.2,7.05];
const gustControl = [14.8,13.3,12.5,9.8,3.3,6.9,8.9,11.6,8.8,8.9,3.65,1.85,4.35,3.65,6.7,7.6,5.2,4.2,3.85,8.95,14.2,14.7,13.1,13.8,13.0,9.6,5.1,5.45,4.2,3.1,4.4,4.7,6.5,8.3,8.2,7.0,6.35,5.6,8.1,8.85,10.0,14.0,11.7,10.7,10.7,10.2,10.85,11.05,10.3,8.3,7.5,8.45,8.6,9.05,10.25,11.4,11.7,7.75,6.7,8.9];
const gustAverage = [14.9,13.3,12.0,9.7,3.0,6.5,9.0,11.0,10.0,10.8,8.5,8.0,7.5,6.9,7.5,8.5,8.0,7.5,8.0,8.5,8.0,8.0,8.4,9.5,9.4,6.7,6.7,7.2,7.0,6.8,7.2,8.0,8.5,8.3,8.0,8.7,8.8,7.8,7.2,7.5,7.5,7.2,7.0,7.4,7.8,7.4,7.3,8.2,8.2,7.9,7.9,8.3,8.3,7.8,7.7,8.5,8.4,7.8,7.8,8.5];
const gustThreshold = 20.9;
const gustMembers = [
[15.2,14.0,12.5,10.0,3.5,7.5,10.5,13.0,15.0,19.0,14.0,12.0,9.0,11.0,13.0,15.0,12.0,11.0,13.0,15.0,17.0,19.0,20.0,21.5,16.0,12.0,11.0,12.5,14.0,15.0,16.0,16.5,14.0,12.0,13.0,17.5,18.0,15.0,13.0,12.0,13.5,15.0,16.0,17.0,19.0,20.5,17.0,15.0,16.0,18.0,20.0,18.0,16.0,15.0,16.5,18.0,17.0,15.0,16.0,19.0],
[14.8,13.0,11.5,9.0,2.5,5.5,8.0,9.5,6.0,2.0,3.5,5.0,4.0,3.5,4.5,5.0,4.0,3.0,2.0,3.0,4.0,3.5,3.0,4.0,3.0,2.5,3.0,3.5,2.5,2.0,3.0,3.5,4.0,3.5,3.0,3.5,4.0,3.0,2.5,3.0,3.5,3.0,3.5,4.0,3.0,2.5,3.0,3.5,3.0,2.0,1.5,2.5,3.0,2.5,2.0,2.5,3.0,2.5,3.0,3.5],
[15.0,13.5,12.0,9.8,3.0,6.5,9.0,11.5,10.0,13.0,9.0,8.0,6.5,7.5,9.0,10.0,8.5,8.0,9.0,10.5,9.5,9.0,10.0,12.0,9.5,6.0,6.5,7.5,7.0,8.5,9.0,10.0,9.5,8.5,9.0,10.0,9.5,8.0,7.5,8.0,8.5,7.5,7.0,8.0,8.5,8.0,7.5,9.0,8.5,8.0,8.5,9.0,8.5,8.0,8.5,9.5,9.0,8.0,8.5,9.5],
[14.9,13.2,11.8,9.5,2.8,6.0,8.5,10.5,8.0,9.0,7.0,6.0,5.5,6.0,7.0,8.0,7.0,6.0,7.0,7.5,6.5,6.0,7.0,8.0,6.0,5.0,5.5,6.0,5.5,5.0,6.0,6.5,7.0,6.5,6.0,7.0,6.5,6.0,5.5,6.0,5.5,5.0,5.5,6.0,6.5,6.0,5.5,6.5,6.0,5.5,6.0,6.5,6.0,5.5,5.0,6.0,6.5,5.5,5.0,6.0],
[15.3,14.2,12.8,10.2,3.8,8.0,11.0,12.5,12.0,14.5,12.0,10.5,9.5,11.5,12.0,11.0,10.5,11.5,12.0,11.0,10.0,11.5,12.5,13.0,11.0,9.0,9.5,10.0,11.0,12.0,13.0,11.5,12.0,13.0,14.0,16.0,13.0,12.0,11.0,12.0,11.5,10.5,11.0,12.0,11.5,11.0,11.5,12.5,12.0,11.5,11.0,12.0,12.5,11.5,11.0,12.0,13.0,12.0,11.0,12.0],
[15.0,13.4,12.0,9.6,3.2,6.8,9.2,11.0,9.0,10.0,8.0,7.5,7.0,8.5,8.0,8.5,8.0,7.5,8.0,8.5,8.0,8.0,8.5,9.0,7.0,6.0,6.5,6.5,6.0,7.0,7.5,8.5,7.5,7.0,7.5,8.0,7.5,7.0,7.0,7.5,7.0,6.5,7.0,7.5,7.0,6.5,7.0,7.5,7.0,7.5,7.5,8.0,7.5,7.0,7.0,7.5,7.0,6.5,7.0,7.5],
[14.7,12.8,11.2,8.8,2.3,5.0,7.0,8.5,5.0,6.5,4.0,3.0,4.0,5.5,4.5,6.0,5.5,4.5,5.0,4.5,3.5,4.5,5.5,6.5,4.0,3.0,3.5,4.5,3.5,4.0,3.5,3.0,4.5,4.0,3.0,3.5,4.5,4.0,3.0,3.5,3.0,3.5,4.5,4.0,3.0,2.5,3.0,3.5,3.0,2.5,2.0,2.5,3.0,4.0,3.0,2.5,2.0,2.5,3.0,4.5],
[15.1,13.8,12.3,9.9,3.4,7.2,10.0,12.0,11.0,11.5,12.5,11.0,9.0,11.5,12.5,12.0,11.0,11.5,12.5,11.0,10.0,9.5,10.0,11.0,8.5,7.5,8.0,9.5,9.0,8.5,9.0,10.0,11.5,12.5,11.0,10.0,9.0,8.5,10.0,11.0,12.0,12.5,11.0,10.0,11.0,12.0,10.5,9.5,10.0,11.5,13.0,14.0,12.5,11.0,10.0,12.0,13.5,15.0,13.0,11.5],
[15.0,13.3,11.9,9.7,3.0,6.4,9.0,11.5,9.5,11.0,9.5,8.5,8.0,7.0,8.5,9.5,9.0,8.0,8.5,10.0,9.5,8.5,9.0,11.0,8.0,7.0,6.5,7.0,8.0,9.0,8.5,8.0,8.5,9.0,8.5,8.0,8.5,8.0,7.0,7.5,8.0,7.5,7.0,8.0,7.5,8.0,7.5,8.0,7.5,8.0,7.5,8.0,7.5,8.0,7.5,8.5,8.0,7.5,7.5,8.0],
[15.0,13.5,12.0,9.8,3.3,7.0,9.5,11.0,9.5,10.0,6.5,5.5,4.5,4.0,5.5,7.0,6.5,6.0,5.0,5.5,6.5,6.0,5.0,5.5,5.0,5.5,5.0,4.5,3.5,4.0,5.0,5.5,5.0,4.0,3.5,3.0,2.0,1.5,2.0,3.5,4.0,5.0,5.5,4.0,4.5,5.0,5.5,4.5,3.5,2.5,1.2,2.5,3.5,4.5,5.0,4.0,3.0,2.5,3.5,4.5],
[15.1,13.7,12.3,10.0,3.6,7.5,10.0,12.5,13.5,12.0,11.0,10.0,11.5,12.0,10.5,10.0,9.5,10.0,9.0,8.5,10.0,12.0,13.5,16.0,13.0,10.5,9.0,8.5,8.0,9.0,10.0,11.0,10.0,9.5,11.0,12.5,12.0,10.5,9.5,8.5,9.5,10.5,12.0,10.0,9.0,9.5,11.0,10.5,10.0,10.5,11.5,10.0,9.0,10.5,12.0,15.5,13.5,11.0,9.5,11.0],
[14.9,13.3,11.9,9.6,2.9,6.3,8.8,10.8,8.5,9.5,8.0,8.5,7.0,7.5,8.0,9.0,8.0,8.5,9.0,9.5,8.5,9.0,8.5,9.0,7.0,6.5,6.8,7.2,7.0,7.0,7.5,8.0,8.0,8.0,8.5,9.0,8.5,8.0,7.5,7.5,7.8,7.5,7.0,7.5,7.8,7.5,7.5,8.0,8.0,8.0,7.8,8.0,8.2,8.0,7.8,8.5,8.2,8.0,7.8,8.2],
[15.0,13.6,12.1,9.8,3.2,7.2,10.0,12.0,12.5,16.0,11.0,9.5,8.5,9.5,10.5,9.5,9.0,9.5,10.5,12.0,10.5,9.5,11.0,12.0,9.0,7.5,8.0,9.0,8.0,8.0,9.0,10.0,11.0,10.0,9.0,10.0,9.0,9.0,8.0,8.0,9.0,10.0,9.0,9.0,10.0,9.0,9.0,10.0,9.0,10.0,11.0,10.0,10.0,9.0,9.0,11.0,10.0,9.0,10.0,10.0],
[14.9,13.2,11.8,9.5,2.7,6.1,8.6,10.2,7.0,8.5,6.5,7.0,5.5,6.0,7.0,7.5,7.0,6.5,6.5,7.5,6.5,7.0,6.5,7.5,5.5,5.0,5.5,6.0,6.0,5.5,6.5,7.0,7.5,7.0,6.5,7.5,7.0,6.5,6.5,6.0,6.5,7.0,6.0,6.5,6.5,6.0,6.5,7.0,6.5,7.0,6.5,7.0,7.0,6.5,6.5,7.5,7.0,6.5,7.0,7.0],
[15.2,13.9,12.5,10.1,3.7,7.8,10.8,13.5,14.0,17.0,13.5,12.0,9.5,8.0,10.0,11.5,10.5,9.5,9.0,10.0,11.0,12.5,13.5,14.5,11.0,9.0,8.0,9.0,11.0,12.0,13.0,14.5,16.0,15.0,13.5,12.5,11.5,10.5,11.5,13.0,14.0,12.5,10.5,11.5,12.5,14.0,15.0,13.0,11.5,12.5,13.5,12.5,14.0,16.0,15.0,13.0,12.5,14.0,16.0,14.0],
[14.8,13.1,11.6,9.3,2.6,5.8,8.2,9.8,6.5,7.0,5.0,6.0,4.5,5.0,6.0,6.5,6.0,5.5,5.0,6.0,5.0,5.5,6.0,6.5,4.5,4.0,4.5,5.0,4.5,5.0,5.5,6.0,5.5,5.0,4.5,5.0,5.5,5.0,4.5,5.0,5.5,5.0,4.5,5.0,5.0,4.5,5.0,5.5,5.0,4.5,4.0,4.5,5.0,5.5,4.5,5.0,5.0,4.5,4.5,5.0]
];

// ---------- Bedekkingsgraad ----------
const cloudOper = [75,66,100,99,99,100,100,100,100,100,100,100,100,100,100,100,100,100,100,100,100,100,99.5,95.5,83,100,100,40,99.7,100,100,59,45.5,11.3,96,100,100,100,100,100];
const cloudControl = [67,37.8,82.7,98,51,98.7,100,100,100,100,100,100,100,100,100,100,100,100,100,100,100,100,100,100,100,100,84,100,30,100,100,7,0.3,31,89.7,98.7,100,100,100,40,84.9,43,66.7,93.8,100,98,8,1.9,23.7,98,100,100,28,76.3,75,37.8,36.2,91.7,94.9,98];
const cloudLow = [67.5,38.5,84,50.5,80,80.3,99,99.5,94,86,100,100,100,100,100,100,100,100,100,100,97.7,99.5,99,91,54.5,77,74.6,60,55,54,53,18.8,4,3.2,3.2,11.8,19.5,29.5,53.2,37.4,37.4,31.8,39.5,36.9,34.9,32.3,76.3,15.4,18.3,18.3,48.5,46.2,21.5,39.5,66,13.8,40,30.1,59.6,68.2];
const cloudHigh = [81,64.5,100,98.5,98.5,99,100,100,100,100,100,100,100,100,100,100,100,100,100,100,100,100,100,100,100,100,100,100,100,100,100,100,100,100,100,100,100,100,100,100,100,100,100,100,100,100,100,100,100,100,100,100,100,100,100,100,100,100,100,100];
const cloudMedian = [76.5,45,94,75,86.5,98.3,100,100,100,98.7,100,100,100,100,100,100,100,100,100,100,100,100,99,99,99.5,100,100,96,100,100,99,90,51.3,60.9,72.2,100,98.3,94.5,97.4,87.2,87.8,83,81,86.8,89.7,99,98.7,83,66.7,91.7,93.8,89.7,76,98.7,83.7,68.8,89.7,98.7,98.7,98.7];

// ---------- styling ----------
const RED = '#d83232', BLUE = '#3232d8', AVG = '#7a0000';
const G1 = 'rgba(60,160,35,0.5)', G2 = 'rgba(120,205,95,0.6)';
const FONT = '"Liberation Sans",Arial,sans-serif';
const xy = (ts, vals) => vals.map((v, i) => ({x: ts[i], y: v}));

function xScale(min, max, font, z) {
  return {
    type: 'linear', min, max, offset: false,
    afterBuildTicks(s) { const t = []; for (let h = 0; h <= max; h += 6) t.push({value: h}); s.ticks = t; },
    afterFit(s) { s.height = 20; },
    ticks: {autoSkip: false, maxRotation: 0, minRotation: 0, padding: 1, color: '#000', font,
      callback: v => (v % 24 === 0 ? dayLabels[v / 24] : '')},
    grid: {offset: false, lineWidth: 1, tickLength: 4, z: z || 0,
      color: c => (c.tick && c.tick.value % 24 === 0) ? '#4a4a4a' : '#cdcdcd',
      tickColor: '#000'},
    border: {color: '#000', width: 1, dash: c => (c.type === 'tick' && c.tick && c.tick.value % 24 !== 0) ? [3, 3] : []}
  };
}
function yScale(min, max, step, width, font, opt) {
  opt = opt || {};
  const isExtra = v => opt.extra !== undefined && v === opt.extra;
  const isZero = v => opt.zeroLine && v === 0;
  const isTop = v => opt.topLine && v === max;
  const isBottom = v => v === min;
  const s = {
    min, max, afterFit(sc) { sc.width = width; },
    ticks: {stepSize: step, color: '#000', font, padding: 2, callback: v => isExtra(v) ? '' : v},
    grid: {tickLength: 3, z: opt.z || 0,
      color: c => { const v = c.tick && c.tick.value; if (isZero(v) || isTop(v) || isBottom(v)) return '#000'; if (isExtra(v)) return '#1f5f5f'; return '#cdcdcd'; },
      lineWidth: c => { const v = c.tick && c.tick.value; if (isZero(v)) return 3; if (isExtra(v) || isTop(v)) return 2; return 1; },
      tickColor: c => (c.tick && isExtra(c.tick.value)) ? 'rgba(0,0,0,0)' : '#000'},
    border: {color: '#000', width: 1,
      dash: c => { if (c.type !== 'tick' || !c.tick) return []; const v = c.tick.value; if (isZero(v) || isTop(v) || isBottom(v)) return []; if (isExtra(v)) return [2, 2]; return [3, 3]; }}
  };
  if (opt.extra !== undefined) s.afterBuildTicks = sc => { sc.ticks.push({value: opt.extra}); };
  return s;
}

function header(panel, title, cloud) {
  let html = '';
  if (!cloud) {
    html += '<div class="sw" style="left:28px;top:11px;border-top:4px solid ' + RED + '"></div><div class="h lg" style="left:48px">Oper</div>';
    html += '<div class="sw" style="left:96px;top:11px;border-top:4px solid ' + BLUE + '"></div><div class="h lg" style="left:115px">Control</div>';
    html += '<div class="sw" style="left:174px;top:13px;border-top:1px dashed #7dcc6a"></div><div class="h lg" style="left:194px">Members</div>';
    html += '<div class="sw" style="left:262px;top:11px;width:15px;border-top:4px dotted ' + AVG + '"></div><div class="h lg" style="left:282px">Average</div>';
  } else {
    html += '<div class="sq" style="left:28px;background:#cc3333"></div><div class="h lg6" style="left:39px">oper</div>';
    html += '<div class="sq" style="left:86px;background:#3333cc"></div><div class="h lg6" style="left:98px">control</div>';
    html += '<div class="sq" style="left:155px;background:#ffffa8"></div><div class="h lg6" style="left:167px">50%</div>';
    html += '<div class="sq" style="left:213px;background:#000"></div><div class="h lg6" style="left:224px">median</div>';
  }
  html += '<div class="h ttl" style="left:416px">' + title + '</div>';
  html += '<div class="h info" style="top:-2px">Infoplaza.nl - regio zuidoost</div>';
  html += '<div class="h info" style="top:8px">Gemaakt: zo 27 dec 22:00</div>';
  panel.insertAdjacentHTML('beforeend', html);
}

function makePanel() {
  const p = document.createElement('div'); p.className = 'panel';
  const c = document.createElement('canvas'); c.width = 635; c.height = 300;
  c.style.width = '635px'; c.style.height = '300px';
  p.appendChild(c);
  document.getElementById('root').appendChild(p);
  return {p, c};
}

const common = {
  responsive: false, animation: false, devicePixelRatio: 1,
  layout: {padding: {top: 20, right: 1, left: 0, bottom: 0}},
  plugins: {legend: {display: false}, tooltip: {enabled: false}, title: {display: false}},
  elements: {point: {radius: 0}, line: {tension: 0}}
};

function linePanel(title, oper, control, avg, members, yMin, yMax, yStep, opt) {
  const {p, c} = makePanel();
  const font = {family: FONT, size: 12};
  const ds = [
    {label: 'Oper', data: xy(times, oper), borderColor: RED, borderWidth: 3, order: 0},
    {label: 'Control', data: xy(times, control), borderColor: BLUE, borderWidth: 3, order: 1},
    {label: 'Average', data: xy(times, avg), borderColor: AVG, borderWidth: 3, borderDash: [3, 2], order: 2}
  ];
  members.forEach((m, i) => ds.push({label: 'Member ' + (i + 1), data: xy(times, m), borderColor: i % 2 ? G2 : G1, borderWidth: 1, order: 3}));
  new Chart(c, {
    type: 'line',
    data: {datasets: ds},
    options: Object.assign({}, common, {
      scales: {x: xScale(-6, 348, font), y: yScale(yMin, yMax, yStep, 28, font, opt)}
    })
  });
  header(p, title, false);
}

linePanel('Temperatuur 2m', tempOper, tempControl, tempAverage, tempMembers, -30, 15, 5, {zeroLine: true});
linePanel('Dauwpunt 2m', dewOper, dewControl, dewAverage, dewMembers, -30, 15, 5);
linePanel('Neerslag', rainOper, rainControl, rainAverage, rainMembers, 0, 20, 2);
linePanel('10m wind', windOper, windControl, windAverage, windMembers, 0, 12, 2);
linePanel('10m windstoten', gustOper, gustControl, gustAverage, gustMembers, -5, 25, 5, {extra: gustThreshold});

// cloud cover panel
(function () {
  const {p, c} = makePanel();
  const font = {family: FONT, size: 11};
  new Chart(c, {
    type: 'bar',
    data: {datasets: [
      {type: 'line', label: 'oper', data: xy(cloudTimes, cloudOper), borderColor: '#cc3333', borderWidth: 2.5, order: 0},
      {type: 'line', label: 'control', data: xy(cloudTimes, cloudControl), borderColor: '#3333cc', borderWidth: 2.5, order: 1},
      {type: 'line', label: 'median', data: xy(cloudTimes, cloudMedian), showLine: false, pointStyle: 'line',
        pointRadius: ctx => (ctx.raw && ctx.raw.y < 99.9) ? 4 : 0, pointBorderColor: '#222', pointBorderWidth: 1, borderColor: '#222', order: 2},
      {type: 'bar', label: '50%', data: cloudTimes.map((t, i) => ({x: t, y: [cloudLow[i], cloudHigh[i]]})),
        backgroundColor: '#ffffb0', borderColor: '#b9b9b9', borderWidth: 1, borderSkipped: false,
        barPercentage: 0.78, categoryPercentage: 1, grouped: false, order: 3}
    ]},
    options: Object.assign({}, common, {
      scales: {x: xScale(-5.3, 351, font, 1), y: yScale(0, 100, 10, 24, font, {topLine: true, z: 1})}
    })
  });
  header(p, 'Bedekkingsgraad', true);
})();
</script>
</body></html>
